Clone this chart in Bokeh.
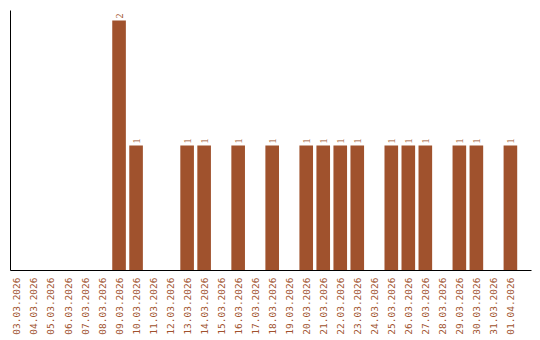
from bokeh.plotting import figure
from bokeh.models import ColumnDataSource, Range1d, FixedTicker, LabelSet
from bokeh.embed import file_html
from bokeh.resources import INLINE
import math

dates = ["03.03.2026", "04.03.2026", "05.03.2026", "06.03.2026", "07.03.2026",
         "08.03.2026", "09.03.2026", "10.03.2026", "11.03.2026", "12.03.2026",
         "13.03.2026", "14.03.2026", "15.03.2026", "16.03.2026", "17.03.2026",
         "18.03.2026", "19.03.2026", "20.03.2026", "21.03.2026", "22.03.2026",
         "23.03.2026", "24.03.2026", "25.03.2026", "26.03.2026", "27.03.2026",
         "28.03.2026", "29.03.2026", "30.03.2026", "31.03.2026", "01.04.2026"]
counts = [0, 0, 0, 0, 0, 0, 2, 1, 0, 0,
          1, 1, 0, 1, 0, 1, 0, 1, 1, 1,
          1, 0, 1, 1, 1, 0, 1, 1, 0, 1]

COLOR = "#A0522D"
FONT = "DejaVu Sans Mono"

idx = list(range(len(dates)))
src = ColumnDataSource(dict(x=idx, top=counts))
lab_src = ColumnDataSource(dict(
    x=[i for i, c in zip(idx, counts) if c > 0],
    y=[c for c in counts if c > 0],
    label=[str(c) for c in counts if c > 0]))

p = figure(width=540, height=340, output_backend="svg", toolbar_location=None,
           x_range=Range1d(-0.38, 30.24), y_range=Range1d(0, 2.08),
           min_border_left=10, min_border_top=10, min_border_right=9,
           min_border_bottom=70)
p.outline_line_color = None
p.grid.visible = False
p.background_fill_color = "white"
p.border_fill_color = "white"

p.vbar(x="x", top="top", bottom=0, width=0.8, source=src,
       fill_color=COLOR, line_color=None)

labels = LabelSet(x="x", y="y", text="label", source=lab_src, angle=math.pi / 2,
                  text_align="left", text_baseline="middle", y_offset=2,
                  text_font=FONT, text_font_size="10px", text_color=COLOR)
p.add_layout(labels)

p.xaxis.ticker = FixedTicker(ticks=idx)
p.xaxis.major_label_overrides = {i: d for i, d in zip(idx, dates)}
p.xaxis.major_label_orientation = math.pi / 2
p.xaxis.major_label_text_font = FONT
p.xaxis.major_label_text_font_size = "9.5px"
p.xaxis.major_label_text_color = COLOR
p.xaxis.major_label_standoff = 7
p.xaxis.major_tick_line_color = None
p.xaxis.minor_tick_line_color = None
p.xaxis.major_tick_out = 0
p.xaxis.major_tick_in = 0
p.xaxis.minor_tick_out = 0
p.xaxis.minor_tick_in = 0
p.xaxis.axis_line_color = "black"

p.yaxis.ticker = FixedTicker(ticks=[])
p.yaxis.major_tick_line_color = None
p.yaxis.minor_tick_line_color = None
p.yaxis.major_tick_out = 0
p.yaxis.major_tick_in = 0
p.yaxis.minor_tick_out = 0
p.yaxis.minor_tick_in = 0
p.yaxis.major_label_standoff = 0
p.yaxis.axis_line_color = "black"

open("out.html", "w").write(file_html(p, INLINE))
